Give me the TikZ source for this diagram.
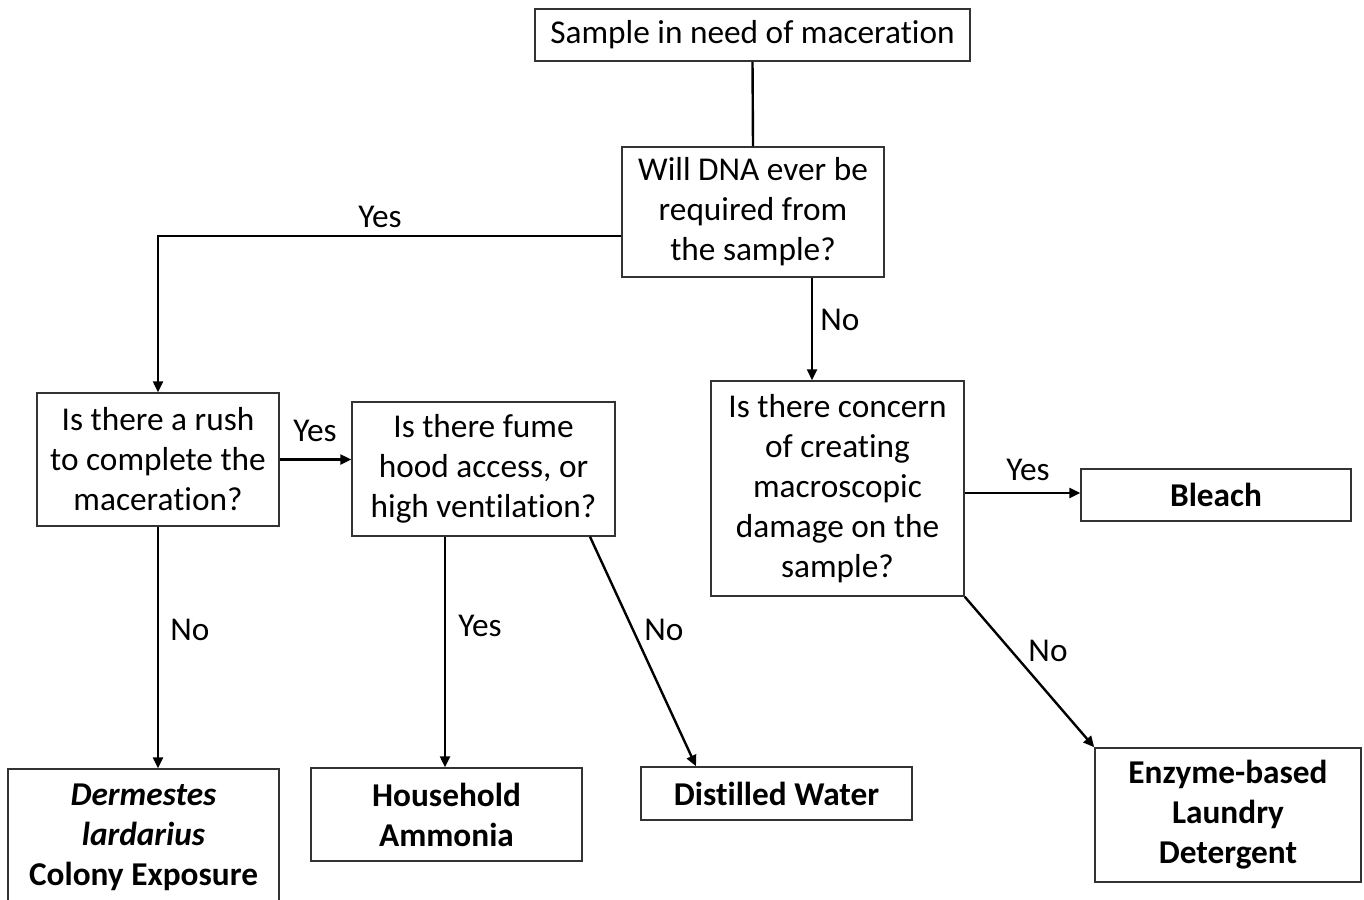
\documentclass[tikz,border=0pt]{standalone}
\usepackage{fontspec}
\setmainfont[Ligatures=NoCommon]{Carlito}
\usetikzlibrary{arrows.meta}
\begin{document}
\begin{tikzpicture}[x=1pt,y=-1pt,
  box/.style={draw=black!80, line width=1.5pt, inner sep=0pt, align=center, font=\fontsize{33.3}{40}\selectfont},
  lbl/.style={inner sep=0pt, font=\fontsize{33.3}{40}\selectfont},
  conn/.style={line width=2.4pt, -{Triangle[length=11pt,width=10pt]}},
  plain/.style={line width=2.4pt}]
\useasboundingbox (0,0) rectangle (1364,899);
\clip (0,0) rectangle (1364,899);
\fill[white] (0,0) rectangle (1364,899);
% boxes
\node[box, minimum width=435pt, minimum height=52pt] (top) at (752.5,35) {Sample in need of maceration};
\node[box, minimum width=262pt, minimum height=130pt] (dna) at (753,212) {Will DNA ever be\\required from\\the sample?};
\node[box, minimum width=242pt, minimum height=133pt] (rush) at (158,459.5) {Is there a rush\\to complete the\\maceration?};
\node[box, minimum width=263pt, minimum height=134pt] (fume) at (483.5,469) {Is there fume\\hood access, or\\high ventilation?};
\node[box, minimum width=253pt, minimum height=215pt] (concern) at (837.5,488.5) {Is there concern\\of creating\\macroscopic\\damage on the\\sample?};
\node[box, minimum width=270pt, minimum height=52pt] (bleach) at (1216,495) {\textbf{Bleach}};
\node[box, minimum width=271pt, minimum height=136pt] (derm) at (143.5,837) {\textbf{\textit{Dermestes}}\\\textbf{\textit{lardarius}}\\\textbf{Colony Exposure}};
\node[box, minimum width=271pt, minimum height=93pt] (house) at (446.5,814.5) {\textbf{Household}\\\textbf{Ammonia}};
\node[box, minimum width=271pt, minimum height=53pt] (water) at (776.5,793.5) {\textbf{Distilled Water}};
\node[box, minimum width=266pt, minimum height=134pt] (enzyme) at (1228,815) {\textbf{Enzyme-based}\\\textbf{Laundry}\\\textbf{Detergent}};
% connectors
\draw[plain] (top.south) -- (dna.north);
\draw[conn] ([yshift=-24pt]dna.west) -| (rush.north);
\draw[conn] ([xshift=59pt]dna.south) -- ([xshift=59pt]dna.south |- concern.north);
\draw[conn] (rush.east) -- (rush.east -| fume.west);
\draw[conn] (rush.south) -- (rush.south |- derm.north);
\draw[conn] ([xshift=-38.5pt]fume.south) -- ([xshift=-38.5pt]fume.south |- house.north);
\draw[conn] ([xshift=106.5pt]fume.south) -- ([xshift=-80.5pt]water.north);
\draw[conn] ([yshift=-4.5pt]concern.east) -- ([yshift=-4.5pt]concern.east -| bleach.west);
\draw[conn] (concern.south east) -- (enzyme.north west);
% labels
\node[lbl] (l1) at (380,217) {Yes};
\node[lbl] (l2) at (840,320) {No};
\node[lbl] (l3) at (315,431) {Yes};
\node[lbl] (l4) at (190,630) {No};
\node[lbl] (l5) at (480,626) {Yes};
\node[lbl] (l6) at (664,630) {No};
\node[lbl] (l7) at (1028,470) {Yes};
\node[lbl] (l8) at (1048,651) {No};
\end{tikzpicture}
\end{document}
